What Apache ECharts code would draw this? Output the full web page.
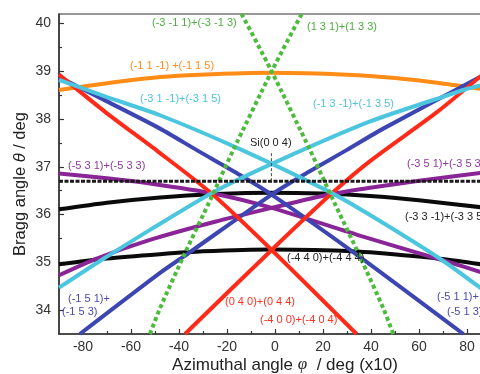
<!DOCTYPE html>
<html><head><meta charset="utf-8">
<script src="https://cdn.jsdelivr.net/npm/echarts@6/dist/echarts.min.js"></script>
<style>html,body{margin:0;padding:0;background:#fff}#c{width:480px;height:374px}</style>
</head><body><div id="c"></div>
<script>
// ---- tick labels ----
const xTickLabels = [-80, -60, -40, -20, 0, 20, 40, 60, 80];
const xMinorTicks = [-70, -50, -30, -10, 10, 30, 50, 70];
const yTickLabels = [34, 35, 36, 37, 38, 39, 40];
const yMinorTicks = [34.5, 35.5, 36.5, 37.5, 38.5, 39.5];

// ---- series (azimuth phi x10, Bragg angle theta) ----
const phiOrange   = [-90, -70, -47.9, -31.25, -1.4, 30, 50, 69, 90];
const thOrange    = [38.61, 38.75, 38.88, 38.93, 38.97, 38.93, 38.86, 38.75, 38.6];

const phiBlkUp    = [-90, -70, -47.9, -25, -1.4, 20, 39.6, 60, 90];
const thBlkUp     = [36.11, 36.25, 36.36, 36.43, 36.46, 36.44, 36.39, 36.3, 36.13];

const phiBlkLow   = [-90, -70, -48, -30, -1.4, 30, 39.6, 69.5, 90];
const thBlkLow    = [34.96, 35.08, 35.17, 35.23, 35.27, 35.24, 35.21, 35.07, 34.93];

const phiPurA     = [-90, -70, -52.1, -25.7, -1.4, 36, 69.5, 90];
const thPurA      = [36.86, 36.76, 36.65, 36.44, 36.14, 35.55, 35.05, 34.73];
const phiPurB     = [-90, -74.3, -52.1, -25, -1.4, 21.5, 39.6, 60, 90];
const thPurB      = [34.73, 35.08, 35.47, 35.85, 36.14, 36.41, 36.56, 36.71, 36.9];

const phiCyanA    = [-90, -70, -47.9, -14.6, 22.9, 39.6, 69.5, 90];
const thCyanA     = [38.82, 38.46, 38.08, 37.37, 36.47, 35.99, 35.05, 34.3];
const phiCyanB    = [-90, -72.3, -52.1, -25.7, 2.1, 39.6, 67.2, 79.2, 90];
const thCyanB     = [34.47, 35.05, 35.68, 36.47, 37.14, 37.95, 38.42, 38.62, 38.76];

const phiBlueA    = [-90, -70, -47.9, -32.6, -14.6, -1.4, 33.3, 78.5];
const thBlueA     = [38.88, 38.37, 37.8, 37.35, 36.83, 36.42, 35.19, 33.5];
const phiBlueB    = [-81.3, -47.9, -36.1, -1.4, 11.8, 29.8, 45.1, 85.4, 90];
const thBlueB     = [33.5, 34.78, 35.19, 36.42, 36.83, 37.35, 37.8, 38.88, 39.0];

const phiRedA     = [-90, -70, -48.75, -26.4, -1.4, 34];
const thRedA      = [38.93, 38.12, 37.32, 36.44, 35.26, 33.5];
const phiRedB     = [-37.5, -1.4, 23.6, 39.6, 67.6, 90];
const thRedB      = [33.5, 35.26, 36.44, 37.12, 38.15, 39.08];

const phiGreenA   = [-13.9, -1.4, 14.6, 23.6, 35.4, 45.1, 49.3];
const thGreenA    = [40.2, 39.0, 37.35, 36.37, 35.12, 34.04, 33.5];
const phiGreenB   = [-52.1, -47.9, -38.2, -26.4, -17.4, -1.4, 11.1];
const thGreenB    = [33.5, 34.04, 35.12, 36.37, 37.35, 39.0, 40.2];

const phiSi       = [-90, 90];
const thSi        = [36.7, 36.7];
const phiSiMark   = [-1.5, -1.5];
const thSiMark    = [36.7, 37.33];

const zip = (a, b) => a.map((v, i) => [v, b[i]]);

function curve(name, phis, ths, color, extra) {
  return Object.assign({
    name, type: 'line', data: zip(phis, ths), showSymbol: false, symbol: 'none',
    smooth: 0.25, clip: true, silent: true,
    lineStyle: { color, width: 4, cap: 'butt' }
  }, extra || {});
}
const GREEN = '#4dbb3d', ORANGE = '#ff8c17', CYAN = '#4cc6df', PURPLE = '#8a2597',
      BLUE = '#3c45b2', RED = '#ff2a18', BLACK = '#0a0a0a';

const chart = echarts.init(document.getElementById('c'), null, { renderer: 'canvas' });
const lab = (text, x, y, fill) => ({
  type: 'text', x, y, silent: true, z: 100,
  style: { text, fill, fontSize: 11, fontFamily: 'Liberation Sans, Arial, sans-serif', align: 'left', verticalAlign: 'middle' }
});
chart.setOption({
  animation: false,
  backgroundColor: '#fff',
  grid: { left: 59, top: 14, right: -11, bottom: 40, show: true, borderColor: '#333', borderWidth: 1.2, outerBoundsMode: 'none' },
  xAxis: [{
    type: 'value', min: -90, max: 90, position: 'bottom',
    axisLine: { show: true, onZero: false, lineStyle: { color: '#333', width: 1.5 } },
    axisTick: { show: true, inside: true, length: 5, customValues: xTickLabels, lineStyle: { color: '#333', width: 1.2 } },
    axisLabel: { customValues: xTickLabels, color: '#333', fontSize: 14, fontFamily: 'Liberation Sans, Arial', margin: 6 },
    splitLine: { show: false }
  }, {
    type: 'value', min: -90, max: 90, position: 'bottom', gridIndex: 0,
    axisLine: { show: false, onZero: false },
    axisTick: { show: true, inside: true, length: 3, customValues: xMinorTicks, lineStyle: { color: '#333', width: 1.2 } },
    axisLabel: { show: false }, splitLine: { show: false }
  }],
  yAxis: [{
    type: 'value', min: 33.5, max: 40.2, position: 'left',
    axisLine: { show: true, onZero: false, lineStyle: { color: '#333', width: 1.5 } },
    axisTick: { show: true, inside: true, length: 5, customValues: yTickLabels, lineStyle: { color: '#333', width: 1.2 } },
    axisLabel: { customValues: yTickLabels, color: '#333', fontSize: 14, fontFamily: 'Liberation Sans, Arial', margin: 8 },
    splitLine: { show: false }
  }, {
    type: 'value', min: 33.5, max: 40.2, position: 'left', gridIndex: 0,
    axisLine: { show: false, onZero: false },
    axisTick: { show: true, inside: true, length: 3, customValues: yMinorTicks, lineStyle: { color: '#333', width: 1.2 } },
    axisLabel: { show: false }, splitLine: { show: false }
  }],
  series: [
    curve('(-3 3 -1)+(-3 3 5)', phiBlkUp, thBlkUp, BLACK),
    curve('(-4 4 0)+(-4 4 4)', phiBlkLow, thBlkLow, BLACK),
    curve('(-5 3 1)+(-5 3 3)', phiPurA, thPurA, PURPLE),
    curve('(-3 5 1)+(-3 5 3)', phiPurB, thPurB, PURPLE),
    curve('(-1 1 -1)+(-1 1 5)', phiOrange, thOrange, ORANGE),
    curve('(-1 5 1)+(-1 5 3)', phiBlueA, thBlueA, BLUE),
    curve('(-5 1 1)+(-5 1 3)', phiBlueB, thBlueB, BLUE),
    curve('(-4 0 0)+(-4 0 4)', phiRedA, thRedA, RED),
    curve('(0 4 0)+(0 4 4)', phiRedB, thRedB, RED),
    curve('(-3 1 -1)+(-3 1 5)', phiCyanA, thCyanA, CYAN),
    curve('(-1 3 -1)+(-1 3 5)', phiCyanB, thCyanB, CYAN),
    curve('(-3 -1 1)+(-3 -1 3)', phiGreenA, thGreenA, GREEN, { lineStyle: { color: GREEN, width: 4, type: [4, 3], cap: 'butt' } }),
    curve('(1 3 1)+(1 3 3)', phiGreenB, thGreenB, GREEN, { lineStyle: { color: GREEN, width: 4, type: [4, 3], cap: 'butt' } }),
    { name: 'Si(0 0 4)', type: 'line', data: zip(phiSi, thSi), showSymbol: false, symbol: 'none', silent: true,
      lineStyle: { color: '#1a1a1a', width: 3, type: [4, 1.5] } },
    { name: 'Si mark', type: 'line', data: zip(phiSiMark, thSiMark), showSymbol: false, symbol: 'none', silent: true,
      lineStyle: { color: '#444', width: 1, type: [3, 2] } }
  ],
  graphic: [
    lab('(-3 -1 1)+(-3 -1 3)', 152, 23, '#4caf3e'),
    lab('(1 3 1)+(1 3 3)', 307, 27, '#4caf3e'),
    lab('(-1 1 -1) +(-1 1 5)', 130, 66, '#ff8c1a'),
    lab('(-3 1 -1)+(-3 1 5)', 140, 99, '#4fc3de'),
    lab('(-1 3 -1)+(-1 3 5)', 313, 104, '#4fc3de'),
    lab('Si(0 0 4)', 250, 143, '#222'),
    lab('(-5 3 1)+(-5 3 3)', 68, 166, '#8e3a9d'),
    lab('(-3 5 1)+(-3 5 3)', 407, 164, '#8e3a9d'),
    lab('(-3 3 -1)+(-3 3 5)', 405, 217, '#222'),
    lab('(-4 4 0)+(-4 4 4)', 287, 258, '#222'),
    lab('(0 4 0)+(0 4 4)', 225, 302, '#ff3020'),
    lab('(-4 0 0)+(-4 0 4)', 260, 320, '#ff3020'),
    lab('(-1 5 1)+', 68, 298.5, '#4a4aae'),
    lab('(-1 5 3)', 62, 312, '#4a4aae'),
    lab('(-5 1 1)+', 437, 297, '#4a4aae'),
    lab('(-5 1 3)', 447, 312, '#4a4aae'),
    { type: 'text', x: 285, y: 365, silent: true,
      style: { text: 'Azimuthal angle {i|φ}  / deg (x10)', fill: '#222', fontSize: 17, fontFamily: 'Liberation Sans, Arial',
        align: 'center', verticalAlign: 'middle',
        rich: { i: { fontStyle: 'italic', fontSize: 17, fontFamily: 'Liberation Serif, serif', fill: '#222' } } } },
    { type: 'text', x: 20, y: 184, rotation: Math.PI / 2, silent: true,
      style: { text: 'Bragg angle {i|θ} / deg', fill: '#222', fontSize: 16.5, fontFamily: 'Liberation Sans, Arial',
        align: 'center', verticalAlign: 'middle',
        rich: { i: { fontStyle: 'italic', fontSize: 16.5, fontFamily: 'Liberation Sans, Arial', fill: '#222' } } } }
  ]
});
</script></body></html>
